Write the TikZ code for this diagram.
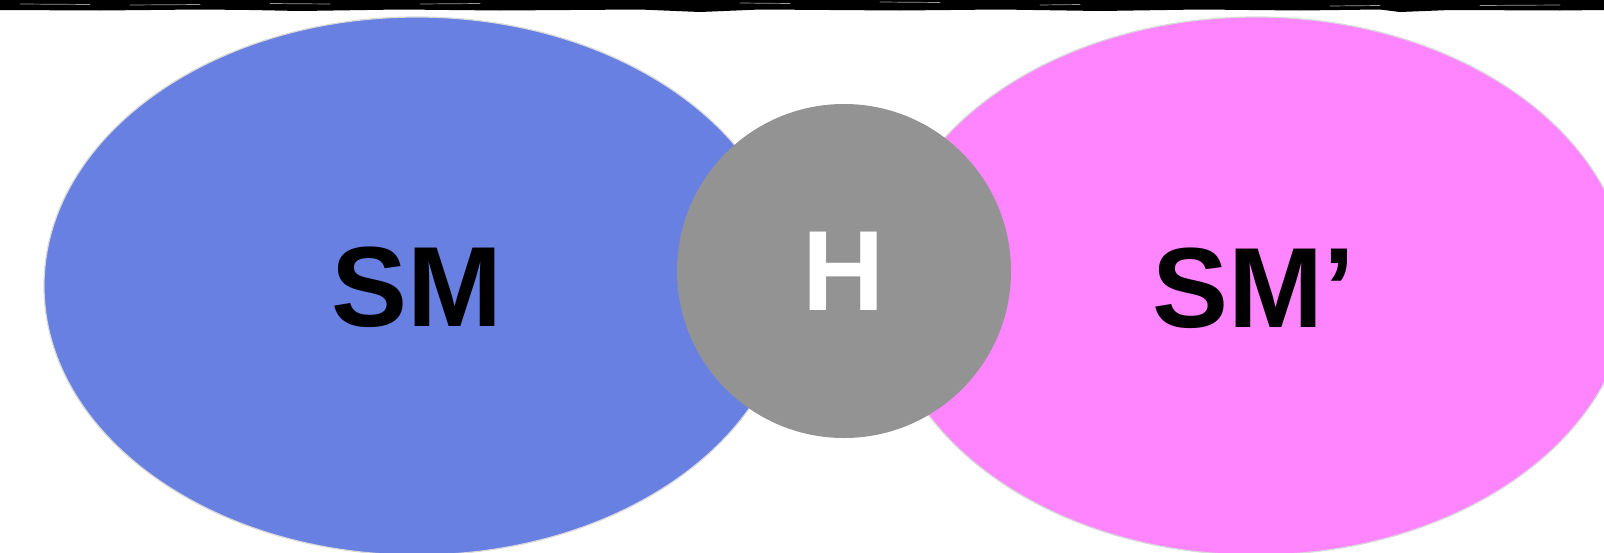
\documentclass[tikz,border=0pt]{standalone}
\usepackage{fontspec}
\setmainfont{Liberation Sans}
\usetikzlibrary{shapes.geometric}
\definecolor{smblue}{RGB}{104,128,226}
\definecolor{smpink}{RGB}{255,133,255}
\definecolor{hgray}{RGB}{147,147,147}
\tikzset{
  blob/.style={ellipse, inner sep=0pt, draw=black!15, line width=1.2pt},
  biglabel/.style={font=\fontsize{114}{114}\selectfont\bfseries, inner sep=0pt, anchor=center},
  streak/.style={white!60!black, line width=0.7pt, line cap=round}
}
\begin{document}
\begin{tikzpicture}[x=1pt,y=-1pt]
\useasboundingbox (0,0) rectangle (1604,552);
\clip (0,0) rectangle (1604,552);
\fill[white] (0,0) rectangle (1604,552);
% brushed top line
\fill[black] (0,0) -- (1604,0) -- (1604,10) -- (1560,10.5) -- (1450,10) -- (1400,12) -- (1380,9.5) -- (1300,10.5) -- (1200,9.5) -- (1100,11) -- (1000,9.5) -- (900,10.5) -- (760,9.5) -- (700,12) -- (640,9.5) -- (500,10.5) -- (400,9.5) -- (300,11) -- (250,10) -- (200,9.5) -- (100,10.5) -- (0,10) -- cycle;
\draw[streak] (20,4) -- (90,4.5);
\draw[streak] (130,5) -- (200,4.5);
\draw[streak] (270,3.5) -- (330,4);
\draw[streak] (420,4) -- (480,3.5);
\draw[streak] (740,3) -- (790,3.5);
\draw[streak] (880,2) -- (940,2.5);
\draw[streak] (1040,5) -- (1080,4.5);
\draw[streak] (1330,6) -- (1380,5.5);
\draw[streak] (1480,5.5) -- (1560,5);
% shapes
\node[blob, fill=smblue, minimum width=746pt, minimum height=538pt] (sm) at (417,286) {};
\node[blob, fill=smpink, minimum width=746pt, minimum height=538pt] (smp) at (1256,286) {};
\node[circle, fill=hgray, inner sep=0pt, minimum size=334pt] (h) at (844,271) {};
% labels
\node[biglabel, text=black] (smt) at (417,287) {SM};
\node[biglabel, text=black] (smpt) at (1254,288) {SM’};
\node[biglabel, text=white] (ht) at (844,271) {H};
\end{tikzpicture}
\end{document}
